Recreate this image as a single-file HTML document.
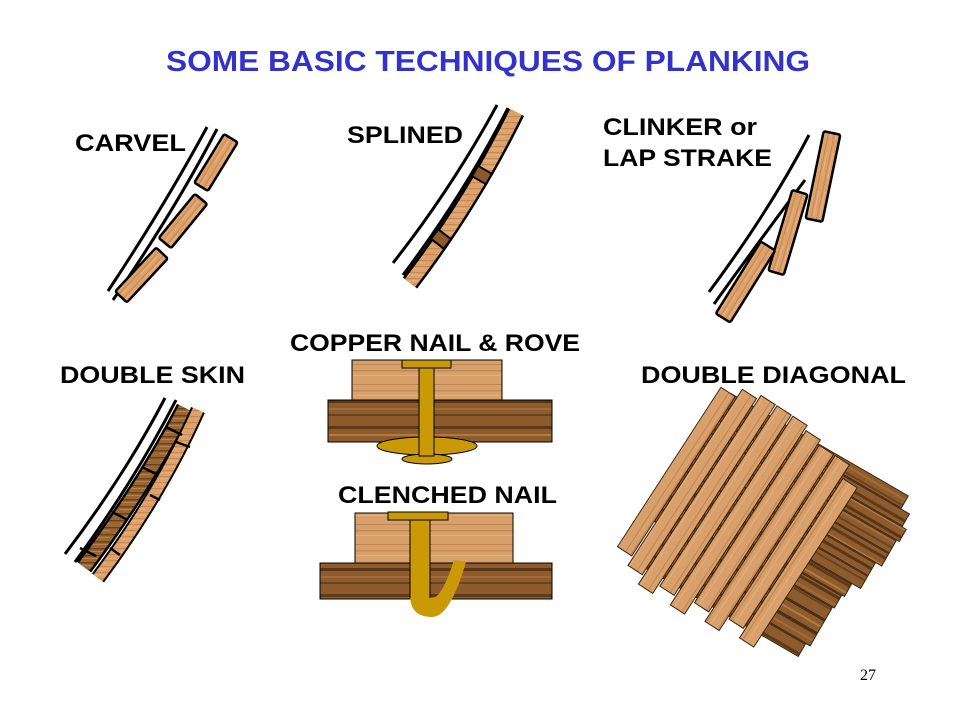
<!DOCTYPE html>
<html><head><meta charset="utf-8"><style>
html,body{margin:0;padding:0;background:#fff;}
svg{display:block;}
.lbl{font-family:"Liberation Sans",Arial,sans-serif;font-weight:bold;font-size:24px;fill:#000;}
</style></head><body>
<svg width="960" height="720" viewBox="0 0 960 720" xmlns="http://www.w3.org/2000/svg">
<defs>
<pattern id="lw" width="40" height="6" patternUnits="userSpaceOnUse">
<rect width="40" height="6" fill="#dda26c"/>
<rect y="2" width="40" height="1.2" fill="#c98a52"/>
<rect y="4.5" width="25" height="0.8" fill="#e8b886"/>
</pattern>
<pattern id="dw" width="40" height="7" patternUnits="userSpaceOnUse">
<rect width="40" height="7" fill="#9a6632"/>
<rect y="2" width="40" height="1.5" fill="#6b421c"/>
<rect y="5" width="30" height="1" fill="#b98048"/>
</pattern>
<pattern id="dwb" width="60" height="42" patternUnits="userSpaceOnUse">
<rect width="60" height="42" fill="#8e5c2c"/>
<rect y="6" width="60" height="3" fill="#5e3a16"/>
<rect y="14" width="60" height="2" fill="#b07a42"/>
<rect y="22" width="60" height="3" fill="#5a3614"/>
<rect y="30" width="60" height="2" fill="#a06c38"/>
<rect y="36" width="60" height="2" fill="#6a4420"/>
</pattern>
<pattern id="lwb" width="60" height="20" patternUnits="userSpaceOnUse">
<rect width="60" height="20" fill="#d8a06a"/>
<rect y="4" width="60" height="1" fill="#c08450"/>
<rect y="10" width="60" height="1.5" fill="#c48a56"/>
<rect y="15" width="60" height="1" fill="#e4b080"/>
</pattern>
</defs>

<text x="166" y="71" textLength="644" lengthAdjust="spacingAndGlyphs" style="font-family:'Liberation Sans',Arial,sans-serif;font-weight:bold;font-size:29px;fill:#3333cc">SOME BASIC TECHNIQUES OF PLANKING</text>

<text class="lbl" x="75" y="151" textLength="111" lengthAdjust="spacingAndGlyphs">CARVEL</text>
<text class="lbl" x="347" y="143" textLength="116" lengthAdjust="spacingAndGlyphs">SPLINED</text>
<text class="lbl" x="603" y="135" textLength="154" lengthAdjust="spacingAndGlyphs">CLINKER or</text>
<text class="lbl" x="603" y="166" textLength="169" lengthAdjust="spacingAndGlyphs">LAP STRAKE</text>
<text class="lbl" x="290" y="351" textLength="290" lengthAdjust="spacingAndGlyphs">COPPER NAIL &amp; ROVE</text>
<text class="lbl" x="60" y="383" textLength="185" lengthAdjust="spacingAndGlyphs">DOUBLE SKIN</text>
<text class="lbl" x="641" y="383" textLength="265" lengthAdjust="spacingAndGlyphs">DOUBLE DIAGONAL</text>
<text class="lbl" x="338" y="503" textLength="219" lengthAdjust="spacingAndGlyphs">CLENCHED NAIL</text>
<text x="860" y="680" style="font-family:'Liberation Serif',serif;font-size:16px;fill:#000">27</text>

<!-- CARVEL -->
<g fill="none" stroke="#000" stroke-width="3">
<path d="M108,291 Q165,205 207,127"/>
<path d="M113,300 Q175,210 217,129"/>
</g>
<g fill="url(#lw)" stroke="#000" stroke-width="2.5">
<rect x="-30" y="-8" width="60" height="16" rx="2" transform="translate(141.5,275) rotate(-47)"/>
<rect x="-28.5" y="-8" width="57" height="16" rx="2" transform="translate(183,221) rotate(-50.7)"/>
<rect x="-28.5" y="-8" width="57" height="16" rx="2" transform="translate(216,162.5) rotate(-58.5)"/>
</g>

<!-- SPLINED -->
<g fill="none" stroke="#000" stroke-width="3">
<path d="M393,263 Q452,188 497,105"/>
<path d="M403,275 Q464,194 508,108"/>
</g>
<path d="M410,283 Q472,202 516,112" fill="none" stroke="#000" stroke-width="18"/>
<path d="M410,283 Q472,202 516,112" fill="none" stroke="url(#lw)" stroke-width="13"/>
<rect x="-6" y="-8" width="12" height="16" fill="#8a5a2e" stroke="#000" stroke-width="2" transform="translate(441,239) rotate(-52)"/>
<rect x="-6" y="-8" width="12" height="16" fill="#8a5a2e" stroke="#000" stroke-width="2" transform="translate(482,175) rotate(-60)"/>

<!-- CLINKER -->
<g fill="none" stroke="#000" stroke-width="3">
<path d="M709,292 Q770,210 809,135"/>
<path d="M714,304 Q760,240 805,180"/>
</g>
<g fill="url(#lw)" stroke="#000" stroke-width="2.5">
<rect x="-44.5" y="-8.5" width="89" height="17" rx="2" transform="translate(823,176.5) rotate(-78.3)"/>
<rect x="-42" y="-8" width="84" height="16" rx="2" transform="translate(788,232.5) rotate(-73.5)"/>
<rect x="-42.5" y="-8.5" width="85" height="17" rx="2" transform="translate(745.5,282) rotate(-58)"/>
</g>

<!-- DOUBLE SKIN -->
<g fill="none" stroke="#000" stroke-width="3">
<path d="M65,554 Q125,475 165,398"/>
<path d="M75,562 Q135,480 176,400"/>
</g>
<path d="M84,567 Q145,485 185,408" fill="none" stroke="#000" stroke-width="18"/>
<path d="M84,567 Q145,485 185,408" fill="none" stroke="url(#dw)" stroke-width="13"/>
<path d="M98,578 Q160,495 198,410" fill="none" stroke="#000" stroke-width="15"/>
<path d="M98,578 Q160,495 198,410" fill="none" stroke="url(#lw)" stroke-width="11"/>
<g stroke="#000" stroke-width="2.5">
<line x1="80" y1="548" x2="96" y2="556"/><line x1="112" y1="512" x2="128" y2="520"/>
<line x1="142" y1="467" x2="158" y2="475"/><line x1="166" y1="427" x2="182" y2="435"/>
<line x1="110" y1="548" x2="120" y2="555"/><line x1="150" y1="495" x2="160" y2="500"/>
<line x1="176" y1="442" x2="190" y2="447"/>
</g>

<!-- COPPER NAIL & ROVE -->
<rect x="352" y="360" width="150" height="40" fill="url(#lwb)" stroke="#000" stroke-width="1"/>
<rect x="328" y="400" width="224" height="42" fill="url(#dwb)" stroke="#000" stroke-width="1"/>
<ellipse cx="427" cy="446" rx="50" ry="9" fill="#c99a06" stroke="#000" stroke-width="1"/>
<ellipse cx="427" cy="459" rx="25" ry="5" fill="#c99a06" stroke="#000" stroke-width="1"/>
<rect x="419" y="368" width="15" height="88" fill="#c99a06" stroke="#000" stroke-width="1"/>
<rect x="402" y="360" width="49" height="8" fill="#c99a06" stroke="#000" stroke-width="1"/>

<!-- CLENCHED NAIL -->
<rect x="355" y="513" width="158" height="50" fill="url(#lwb)" stroke="#000" stroke-width="1"/>
<rect x="320" y="563" width="232" height="36" fill="url(#dwb)" stroke="#000" stroke-width="1"/>
<path d="M410,520 L410,595 Q410,617 432,617 Q450,617 466,562 L454,560 Q442,598 432,598 L430,598 L430,520 Z" fill="#c99a06"/>
<path d="M410,520 L410,598 M430,520 L430,598" stroke="#000" stroke-width="1"/>
<rect x="388" y="512" width="60" height="8" fill="#c99a06" stroke="#000" stroke-width="1"/>

<!-- DOUBLE DIAGONAL -->
<g transform="translate(776,535) rotate(30)">
<g fill="url(#dwb)" stroke="#3a2410" stroke-width="1">
<rect x="-110" y="-100" width="205" height="14"/>
<rect x="-110" y="-85" width="215" height="14"/>
<rect x="-115" y="-70" width="225" height="14"/>
<rect x="-118" y="-55" width="225" height="14"/>
<rect x="-118" y="-40" width="225" height="14"/>
<rect x="-120" y="-25" width="220" height="14"/>
<rect x="-120" y="-10" width="220" height="14"/>
<rect x="-120" y="5" width="210" height="14"/>
<rect x="-118" y="20" width="205" height="14"/>
<rect x="-115" y="35" width="200" height="14"/>
<rect x="-110" y="50" width="195" height="14"/>
<rect x="-105" y="65" width="190" height="14"/>
<rect x="-100" y="80" width="180" height="14"/>
</g>
</g>
<g transform="translate(760,520) rotate(-57)">
<g fill="url(#lwb)" stroke="#3a2410" stroke-width="1">
<rect x="-100" y="-105" width="190" height="17"/>
<rect x="-110" y="-86" width="210" height="17"/>
<rect x="-120" y="-67" width="225" height="17"/>
<rect x="-110" y="-48" width="215" height="17"/>
<rect x="-120" y="-29" width="225" height="17"/>
<rect x="-105" y="-10" width="205" height="17"/>
<rect x="-115" y="9" width="210" height="17"/>
<rect x="-100" y="28" width="195" height="17"/>
<rect x="-110" y="47" width="190" height="17"/>
</g>
</g>
</svg>
</body></html>
